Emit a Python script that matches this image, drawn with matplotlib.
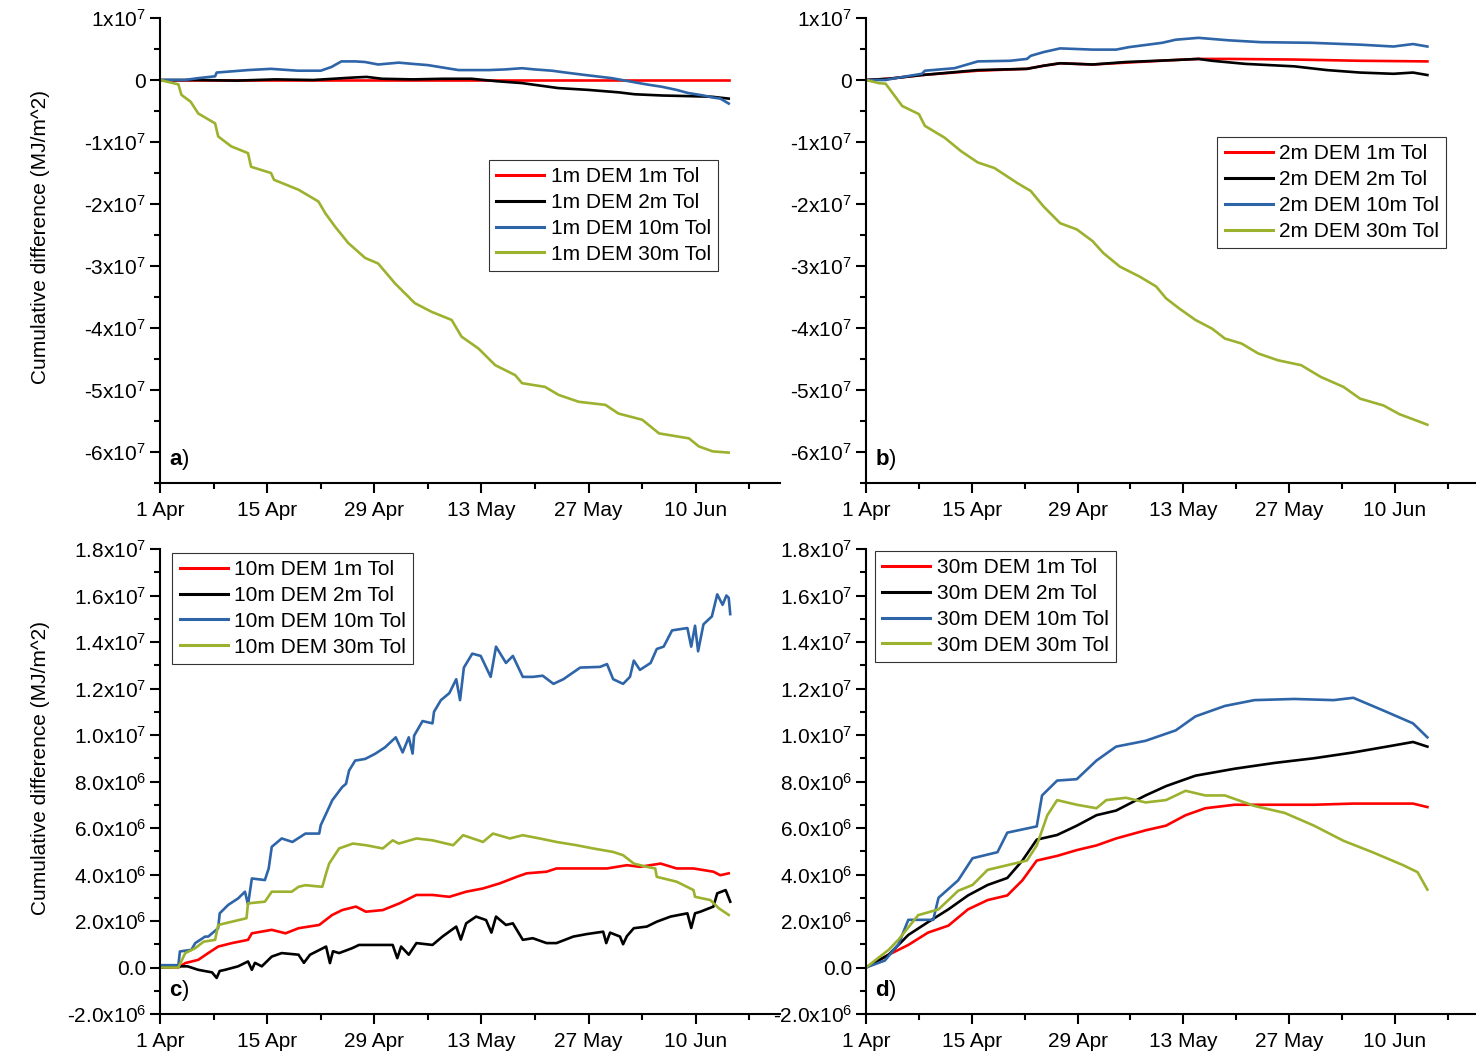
import matplotlib

matplotlib.use("Agg")
import matplotlib.dates as mdates
import matplotlib.pyplot as plt
import numpy as np
import pandas as pd
from matplotlib.ticker import FuncFormatter, MultipleLocator

plt.rcParams["font.family"] = ["Liberation Sans", "DejaVu Sans"]
plt.rcParams["mathtext.fontset"] = "custom"
plt.rcParams["mathtext.rm"] = "Liberation Sans"
plt.rcParams["mathtext.it"] = "Liberation Sans"
plt.rcParams["mathtext.bf"] = "Liberation Sans:bold"

START = pd.Timestamp("2013-04-01")
COLORS = ["#ff0000", "#000000", "#2e64a8", "#9bb22e"]
TOLS = ["1m", "2m", "10m", "30m"]

# ---- panel a (units of 1e7), x in days after 1 Apr ----
A_RED_D = [0, 74.3]
A_RED = [0, 0]
A_BLACK_D = [0, 5, 10, 15, 20, 25.3, 27, 29, 33, 37, 40.7, 44, 47.3, 52, 56, 60, 62, 65.6, 69, 72.1, 74.3]
A_BLACK = [0, 0, -0.01, 0.01, 0, 0.04, 0.05, 0.02, 0.01, 0.02, 0.02, -0.02, -0.05, -0.13, -0.16, -0.2,
           -0.23, -0.25, -0.26, -0.27, -0.3]
A_BLUE_D = [0, 3.2, 5, 7.2, 7.4, 11.5, 14.5, 18, 21, 22.4, 23.7, 25.5, 26.8, 28.5, 31.2, 33, 35, 37, 39, 43,
            45, 47.3, 49, 51.2, 53, 55.6, 59, 61.7, 63.5, 65.6, 67.5, 69, 71, 72.1, 73.2, 74.3]
A_BLUE = [0, 0, 0.03, 0.06, 0.12, 0.16, 0.18, 0.15, 0.15, 0.21, 0.30, 0.30, 0.29, 0.25, 0.28, 0.26, 0.24,
          0.2, 0.16, 0.16, 0.17, 0.19, 0.17, 0.15, 0.12, 0.08, 0.03, -0.03, -0.07, -0.11, -0.16, -0.21,
          -0.25, -0.28, -0.3, -0.38]
A_GREEN_D = [0, 2.4, 2.8, 4, 5, 7.2, 7.6, 9.3, 11.5, 11.9, 14.5, 14.9, 18.1, 20.7, 21.6, 22.9, 24.6, 26.8,
             28.5, 30.7, 33.3, 35.5, 38.1, 39.4, 41.6, 43.8, 46.4, 47.3, 50.3, 52.1, 54.7, 58.2, 59.9, 63,
             65.2, 69.1, 70.4, 72.2, 74.3]
A_GREEN = [0, -0.07, -0.24, -0.35, -0.54, -0.70, -0.91, -1.07, -1.18, -1.4, -1.5, -1.61, -1.77, -1.96,
           -2.15, -2.37, -2.63, -2.87, -2.96, -3.28, -3.6, -3.74, -3.87, -4.14, -4.33, -4.6, -4.76, -4.89,
           -4.95, -5.08, -5.19, -5.24, -5.38, -5.48, -5.70, -5.78, -5.91, -5.99, -6.01]

# ---- panel b (units of 1e7) ----
B_RED_D = [0, 3, 7.4, 14.8, 21.3, 23.5, 25.7, 30, 34.4, 40.5, 44, 48, 56.7, 65.4, 74.3]
B_RED = [0, 0.02, 0.08, 0.15, 0.18, 0.23, 0.27, 0.25, 0.28, 0.32, 0.34, 0.34, 0.33, 0.31, 0.30]
B_BLACK_D = [0, 3, 7.4, 14.8, 21.3, 23.5, 25.7, 30, 34.4, 40.5, 44, 45.8, 50.2, 56.7, 61, 65.4, 69.8,
             72.4, 74.3]
B_BLACK = [0, 0.02, 0.08, 0.16, 0.18, 0.23, 0.27, 0.25, 0.29, 0.32, 0.34, 0.31, 0.26, 0.22, 0.16, 0.12,
           0.10, 0.12, 0.08]
B_BLUE_D = [0, 2.6, 3.9, 7.4, 7.8, 11.7, 14.8, 19.1, 21.3, 21.8, 23.5, 25.7, 30, 33.1, 34.8, 39.2, 41, 44,
            48, 52.3, 58.9, 65.4, 69.8, 72.4, 74.3]
B_BLUE = [0, 0, 0.03, 0.10, 0.15, 0.19, 0.30, 0.31, 0.34, 0.39, 0.45, 0.51, 0.49, 0.49, 0.53, 0.60, 0.65,
          0.68, 0.64, 0.61, 0.60, 0.57, 0.54, 0.58, 0.54]
B_GREEN_D = [0, 1.7, 2.6, 4.8, 7, 7.8, 10.4, 12.6, 14.8, 17, 20, 21.8, 23.5, 25.7, 27.9, 30, 31.4, 33.6,
             36.2, 38.4, 39.7, 41.4, 43.6, 45.8, 47.5, 49.7, 51.9, 54.5, 57.6, 60.2, 63.2, 65.4, 68.5,
             70.6, 72.8, 74.3]
B_GREEN = [0, -0.05, -0.06, -0.42, -0.55, -0.74, -0.93, -1.15, -1.33, -1.42, -1.66, -1.79, -2.04, -2.31,
           -2.41, -2.6, -2.79, -3.01, -3.17, -3.33, -3.52, -3.68, -3.87, -4.01, -4.17, -4.25, -4.41, -4.52,
           -4.6, -4.79, -4.95, -5.14, -5.25, -5.39, -5.49, -5.56]

# ---- panel c (units of 1e6) ----
C_RED_D = [0, 2.4, 3.3, 5, 6.3, 7.6, 9.4, 11.5, 12, 14.6, 16.4, 18.1, 20.8, 22.5, 23.8, 25.6, 26.9, 29.1,
           31.3, 33.5, 35.6, 37.8, 40, 42.2, 44.4, 46.6, 47.9, 50.5, 51.8, 55.3, 58.4, 61, 62.7, 65.4,
           67.5, 69.7, 72.3, 73.2, 74.3]
C_RED = [0, 0, 0.19, 0.33, 0.62, 0.9, 1.05, 1.19, 1.47, 1.62, 1.47, 1.69, 1.83, 2.26, 2.47, 2.62, 2.4,
         2.47, 2.76, 3.12, 3.12, 3.04, 3.26, 3.4, 3.62, 3.9, 4.05, 4.12, 4.26, 4.26, 4.26, 4.4, 4.33, 4.47,
         4.26, 4.26, 4.12, 3.97, 4.05]
C_BLACK_D = [0, 2.4, 3.6, 5, 6.8, 7.4, 7.8, 8.5, 10.2, 11.5, 12, 12.4, 13.3, 14.6, 15.9, 18.1, 18.8, 19.6,
             21.7, 22.2, 22.6, 23.4, 25.1, 26, 27.7, 30.4, 31, 31.5, 32.1, 32.5, 33.5, 35.6, 36.9, 38.7,
             39.3, 40, 41.3, 42.6, 43.3, 43.9, 45.2, 46.1, 47.4, 48.7, 50.5, 51.8, 54, 55.8, 57.9, 58.3,
             58.8, 60.1, 60.5, 61, 61.9, 63.6, 64.9, 66.7, 68.9, 69.4, 69.9, 70.6, 72.3, 72.8, 73.9, 74.5]
C_BLACK = [0, 0.05, 0.05, -0.1, -0.21, -0.45, -0.15, -0.1, 0.05, 0.26, -0.1, 0.2, 0.05, 0.47, 0.62, 0.55,
           0.2, 0.55, 0.9, 0.19, 0.7, 0.62, 0.83, 0.97, 0.97, 0.97, 0.4, 0.9, 0.69, 0.55, 1.05, 0.97, 1.33,
           1.76, 1.2, 1.9, 2.19, 2.04, 1.5, 2.19, 1.83, 1.9, 1.19, 1.26, 1.05, 1.05, 1.33, 1.44, 1.54,
           1.05, 1.5, 1.33, 1.0, 1.35, 1.69, 1.76, 1.97, 2.19, 2.33, 1.7, 2.33, 2.4, 2.62, 3.19, 3.33, 2.83]
C_BLUE_D = [0, 2.4, 2.6, 4.1, 4.6, 5.9, 6.3, 7.6, 7.8, 8.9, 10.2, 11.1, 11.5, 12, 13.7, 14.2, 14.6, 15.9,
            17.3, 19, 20.8, 21, 22.1, 22.5, 23.8, 24.3, 24.7, 25.5, 26.8, 28.1, 29.4, 30.8, 31.7, 32.5,
            33, 33.2, 34.3, 35.6, 35.8, 36.7, 37.8, 38.7, 39.2, 39.7, 40.8, 41.9, 43.2, 43.9, 45.2, 46.1,
            47.4, 48.7, 50, 51.4, 52.7, 54.9, 57.5, 58.4, 59.2, 60.5, 61.4, 61.9, 62.7, 64.1, 64.9, 65.8,
            66.9, 68.9, 69.4, 69.9, 70.3, 71, 72.1, 72.8, 73.5, 74, 74.3, 74.5]
C_BLUE = [0.1, 0.1, 0.69, 0.76, 1.05, 1.33, 1.33, 1.69, 2.33, 2.69, 2.97, 3.26, 2.7, 3.83, 3.76, 4.26,
          5.19, 5.55, 5.4, 5.76, 5.76, 6.12, 6.9, 7.19, 7.76, 7.9, 8.47, 8.9, 8.97, 9.19, 9.47, 9.9, 9.25,
          9.9, 9.2, 9.97, 10.6, 10.5, 11.0, 11.5, 11.8, 12.4, 11.5, 12.9, 13.5, 13.4, 12.5, 13.8, 13.1,
          13.4, 12.5, 12.5, 12.55, 12.2, 12.4, 12.9, 12.93, 13.05, 12.4, 12.2, 12.5, 13.2, 12.8, 13.1,
          13.7, 13.8, 14.5, 14.6, 13.8, 14.7, 13.6, 14.76, 15.1, 16.05, 15.6, 16.0, 15.9, 15.2]
C_GREEN_D = [0, 2.4, 3.3, 4.6, 5.7, 7.2, 7.6, 9.4, 11.3, 11.5, 13.7, 14.6, 17.2, 18.1, 19, 21.2, 21.7, 22.1,
             23.4, 25.2, 26.9, 29.1, 30.4, 31.2, 33.5, 35.6, 38.3, 39.6, 42.2, 43.5, 45.7, 47.4, 49.6,
             51.8, 54.4, 56.6, 59.2, 60.5, 61.9, 63.6, 64.7, 64.9, 67.5, 69.7, 69.9, 71.9, 73, 74.3]
C_GREEN = [0, 0, 0.62, 0.83, 1.11, 1.19, 1.83, 1.97, 2.12, 2.76, 2.83, 3.26, 3.26, 3.47, 3.54, 3.47, 4.05,
           4.47, 5.12, 5.33, 5.26, 5.12, 5.47, 5.33, 5.55, 5.47, 5.26, 5.69, 5.4, 5.76, 5.55, 5.69, 5.55,
           5.4, 5.26, 5.12, 4.97, 4.83, 4.47, 4.33, 4.26, 3.9, 3.69, 3.33, 3.04, 2.9, 2.55, 2.26]

# ---- panel d (units of 1e6) ----
D_RED_D = [0, 3, 5.6, 8.2, 10.9, 13.5, 16.1, 18.7, 20.7, 22.6, 25.3, 27.9, 30.5, 33.1, 37, 39.7, 42.3,
           44.9, 48.8, 54.1, 59.3, 64.5, 69.8, 72.4, 74.3]
D_RED = [0, 0.55, 0.97, 1.5, 1.8, 2.5, 2.9, 3.1, 3.75, 4.6, 4.8, 5.05, 5.25, 5.55, 5.9, 6.1, 6.55, 6.85,
         7.0, 7.0, 7.0, 7.05, 7.05, 7.05, 6.9]
D_BLACK_D = [0, 3, 5.6, 8.2, 10.9, 13.5, 16.1, 18.7, 20.7, 22.6, 25.3, 27.9, 30.5, 33.1, 37, 39.7, 43.6,
             48.8, 54.1, 59.3, 64.5, 69.8, 72.4, 74.3]
D_BLACK = [0, 0.55, 1.4, 1.95, 2.5, 3.1, 3.55, 3.85, 4.6, 5.5, 5.7, 6.1, 6.55, 6.75, 7.4, 7.8, 8.25, 8.55,
           8.8, 9.0, 9.25, 9.55, 9.7, 9.5]
D_BLUE_D = [0, 2.5, 4.3, 5.6, 8.9, 9.6, 12.2, 14.1, 17.4, 18.7, 22.6, 23.3, 25.3, 27.9, 30.5, 33.1, 37, 41,
            43.6, 47.5, 51.4, 56.7, 61.9, 64.5, 68.5, 72.4, 74.3]
D_BLUE = [0, 0.3, 1.0, 2.05, 2.05, 3.0, 3.75, 4.7, 4.96, 5.8, 6.07, 7.4, 8.04, 8.1, 8.9, 9.5, 9.75, 10.2,
          10.8, 11.25, 11.5, 11.55, 11.5, 11.6, 11.05, 10.5, 9.9]
D_GREEN_D = [0, 3, 4.3, 6.9, 9.6, 12.2, 14.1, 16.1, 18.7, 21.3, 22.6, 24, 25.3, 27.9, 30.5, 31.8, 34.4, 37,
             39.7, 42.3, 44.9, 47.5, 51.4, 55.4, 59.3, 63.2, 67.1, 71.1, 73, 74.3]
D_GREEN = [0, 0.76, 1.2, 2.25, 2.5, 3.3, 3.55, 4.2, 4.4, 4.6, 5.25, 6.55, 7.2, 7.0, 6.85, 7.2, 7.3, 7.1,
           7.2, 7.6, 7.4, 7.4, 6.95, 6.65, 6.1, 5.45, 4.95, 4.4, 4.1, 3.35]

PANELS = [
    ("a", "1m", 1e7, [(A_RED_D, A_RED), (A_BLACK_D, A_BLACK), (A_BLUE_D, A_BLUE), (A_GREEN_D, A_GREEN)]),
    ("b", "2m", 1e7, [(B_RED_D, B_RED), (B_BLACK_D, B_BLACK), (B_BLUE_D, B_BLUE), (B_GREEN_D, B_GREEN)]),
    ("c", "10m", 1e6, [(C_RED_D, C_RED), (C_BLACK_D, C_BLACK), (C_BLUE_D, C_BLUE), (C_GREEN_D, C_GREEN)]),
    ("d", "30m", 1e6, [(D_RED_D, D_RED), (D_BLACK_D, D_BLACK), (D_BLUE_D, D_BLUE), (D_GREEN_D, D_GREEN)]),
]

W, H = 1476, 1054
RECTS = {
    "a": (160 / W, 1 - 483 / H, 620 / W, 465 / H),
    "b": (866 / W, 1 - 483 / H, 612 / W, 465 / H),
    "c": (160 / W, 1 - 1014 / H, 620 / W, 465 / H),
    "d": (866 / W, 1 - 1014 / H, 612 / W, 465 / H),
}
LEGEND_POS = {
    "a": ("upper right", (0.90, 0.695)),
    "b": ("upper right", (0.948, 0.744)),
    "c": ("upper left", (0.02, 0.992)),
    "d": ("upper left", (0.015, 0.996)),
}


def fmt_top(v, _):
    if abs(v) < 1:
        return "0"
    return f"{int(round(v / 1e7))}x10$^{{7}}$"


def fmt_bottom(v, _):
    if abs(v) < 1:
        return "0.0"
    if abs(v) >= 1e7 - 1:
        return f"{v / 1e7:.1f}x10$^{{7}}$"
    return f"{v / 1e6:.1f}x10$^{{6}}$"


def to_dates(days):
    return START + pd.to_timedelta(np.asarray(days, dtype=float), unit="D")


fig = plt.figure(figsize=(W / 100, H / 100), dpi=100)
for letter, dem, scale, series in PANELS:
    ax = fig.add_axes(RECTS[letter])
    for (days, vals), color, tol in zip(series, COLORS, TOLS):
        ax.plot(to_dates(days), np.asarray(vals) * scale, color=color, lw=1.9,
                label=f"{dem} DEM {tol} Tol")

    ax.set_xlim(START, START + pd.Timedelta(days=81))
    ax.set_xticks(to_dates(np.arange(0, 81, 14)))
    ax.set_xticks(to_dates(np.arange(7, 81, 14)), minor=True)
    ax.xaxis.set_major_formatter(mdates.DateFormatter("%-d %b"))

    if letter in "ab":
        ax.set_ylim(-6.5e7, 1e7)
        ax.yaxis.set_major_locator(MultipleLocator(1e7))
        ax.yaxis.set_minor_locator(MultipleLocator(0.5e7))
        ax.yaxis.set_major_formatter(FuncFormatter(fmt_top))
    else:
        ax.set_ylim(-2e6, 1.8e7)
        ax.yaxis.set_major_locator(MultipleLocator(2e6))
        ax.yaxis.set_minor_locator(MultipleLocator(1e6))
        ax.yaxis.set_major_formatter(FuncFormatter(fmt_bottom))

    for side in ("top", "right"):
        ax.spines[side].set_visible(False)
    for side in ("left", "bottom"):
        ax.spines[side].set_linewidth(1.5)
    ax.tick_params(which="major", direction="out", length=7, width=1.5, labelsize=15)
    ax.tick_params(which="minor", direction="out", length=4, width=1.5)
    ax.tick_params(axis="x", pad=6)
    ax.tick_params(axis="y", pad=3)

    if letter in "ac":
        ax.set_ylabel("Cumulative difference (MJ/m^2)", fontsize=15)
        ax.yaxis.set_label_coords(-0.178, 0.53)

    ax.text(0.014, 0.05, rf"$\mathbf{{{letter}}}$)", transform=ax.transAxes, fontsize=16,
            ha="left", va="center")

    loc, anchor = LEGEND_POS[letter]
    leg = ax.legend(loc=loc, bbox_to_anchor=anchor, fontsize=15, frameon=True, fancybox=False,
                    handlelength=2.3, handletextpad=0.3, labelspacing=0.33, borderpad=0.35,
                    borderaxespad=0)
    leg.get_frame().set_edgecolor("black")
    leg.get_frame().set_linewidth(0.8)
    for line in leg.get_lines():
        line.set_linewidth(2.2)

fig.savefig("out.png", dpi=100, facecolor="white")
